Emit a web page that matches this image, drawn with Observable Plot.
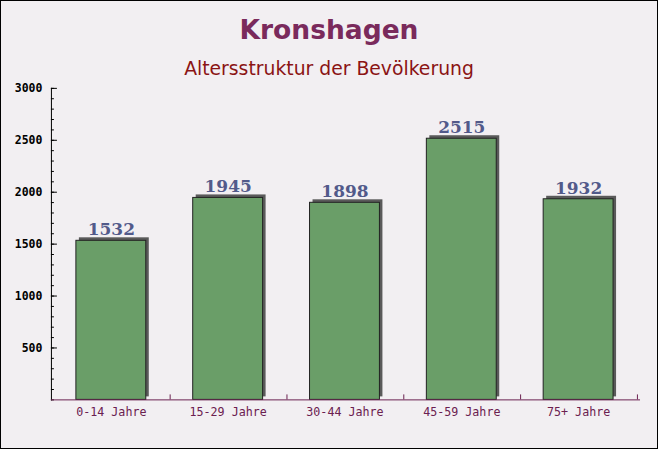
<!DOCTYPE html>
<html>
<head>
<meta charset="utf-8">
<script src="https://cdn.jsdelivr.net/npm/d3@7"></script>
<script src="https://cdn.jsdelivr.net/npm/@observablehq/plot@0.6"></script>
<style>
  html, body { margin: 0; padding: 0; }
  #wrap { position: relative; width: 658px; height: 449px; box-sizing: border-box; border: 1px solid #000; background: #f2eff2; overflow: hidden; }
  #title { position: absolute; left: 0; right: 0; top: 13px; text-align: center; font-family: "DejaVu Sans", sans-serif; font-weight: bold; font-size: 26.5px; color: #7a2a5c; }
  #subtitle { position: absolute; left: 0; right: 0; top: 57px; text-align: center; font-family: "DejaVu Sans", sans-serif; font-size: 18.8px; color: #8b1414; }
  #chart { position: absolute; left: -1px; top: -1px; }
</style>
</head>
<body>
<div id="wrap">
  <div id="chart"></div>
  <div id="title">Kronshagen</div>
  <div id="subtitle">Altersstruktur der Bevölkerung</div>
</div>
<script>
const categories = ["0-14 Jahre", "15-29 Jahre", "30-44 Jahre", "45-59 Jahre", "75+ Jahre"];
const values = [1532, 1945, 1898, 2515, 1932];
const majorTicks = [500, 1000, 1500, 2000, 2500, 3000];
const minorTicks = d3.range(0, 3001, 100);

const data = categories.map((c, i) => ({category: c, value: values[i]}));

const W = 658, H = 449;
const mL = 51, mR = 18, mT = 88, mB = 49;
const step = (W - mL - mR) / categories.length;

const chart = Plot.plot({
  width: W,
  height: H,
  marginLeft: mL,
  marginRight: mR,
  marginTop: mT,
  marginBottom: mB,
  style: {background: "transparent", overflow: "visible"},
  x: {domain: categories, paddingInner: 0.4, paddingOuter: 0.2, label: null},
  y: {domain: [0, 3000], label: null},
  marks: [
    // shadow
    Plot.barY(data, {x: "category", y: "value", fill: "#5a5a5a", dx: 3, dy: -3}),
    // bars
    Plot.barY(data, {x: "category", y: "value", fill: "#6a9e68", stroke: "#222", strokeWidth: 1}),
    // value labels
    Plot.text(data, {x: "category", y: "value", text: d => String(d.value), dy: -11, fill: "#525a8a",
      fontFamily: "DejaVu Serif", fontWeight: "bold", fontSize: 17}),
    // y axis: minor ticks
    Plot.axisY(minorTicks, {tickSize: -3, text: null, stroke: "#000"}),
    // y axis: major ticks + labels
    Plot.axisY(majorTicks, {tickSize: -6, tickPadding: 15, tickFormat: d => String(d), fill: "#000", stroke: "#000",
      fontFamily: "DejaVu Sans Mono", fontWeight: "bold", fontSize: 11.5}),
    // x labels
    Plot.axisX({tickSize: 0, tickPadding: 8, fill: "#6b2050",
      fontFamily: "DejaVu Sans Mono", fontSize: 11.7}),
    // x boundary ticks
    Plot.axisX({tickSize: -5, text: null, stroke: "#6b2050", dx: step / 2}),
    Plot.frame({anchor: "left", stroke: "#000"}),
    Plot.frame({anchor: "bottom", stroke: "#6b2050"})
  ]
});
document.getElementById("chart").appendChild(chart);
</script>
</body>
</html>
